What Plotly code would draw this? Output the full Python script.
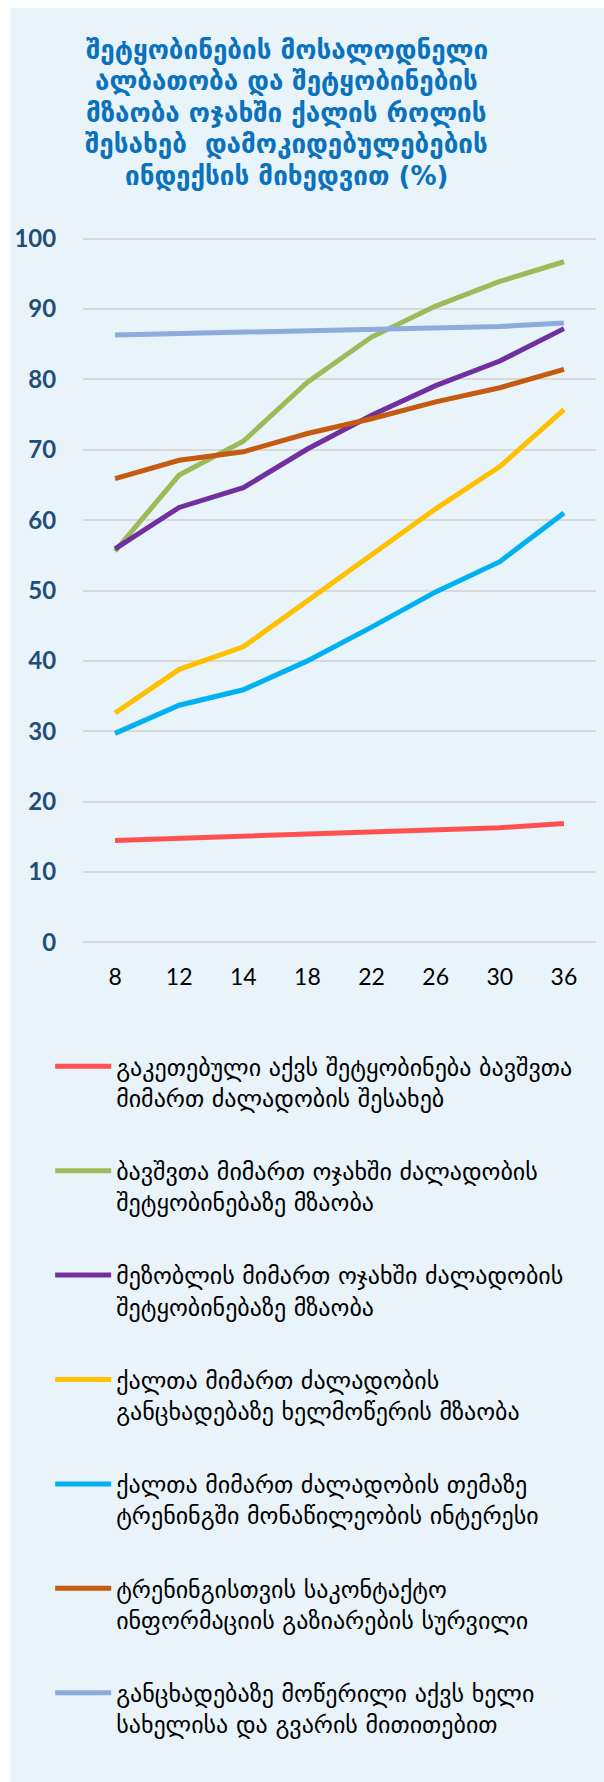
import plotly.graph_objects as go

categories = ["8", "12", "14", "18", "22", "26", "30", "36"]

series_names = [
    "გაკეთებული აქვს შეტყობინება ბავშვთა<br>მიმართ ძალადობის შესახებ",
    "ბავშვთა მიმართ ოჯახში ძალადობის<br>შეტყობინებაზე მზაობა",
    "მეზობლის მიმართ ოჯახში ძალადობის<br>შეტყობინებაზე მზაობა",
    "ქალთა მიმართ ძალადობის<br>განცხადებაზე ხელმოწერის მზაობა",
    "ქალთა მიმართ ძალადობის თემაზე<br>ტრენინგში მონაწილეობის ინტერესი",
    "ტრენინგისთვის საკონტაქტო<br>ინფორმაციის გაზიარების სურვილი",
    "განცხადებაზე მოწერილი აქვს ხელი<br>სახელისა და გვარის მითითებით",
]

reported = [14.5, 14.8, 15.0, 15.3, 15.6, 16.0, 16.3, 16.9]
ready_children = [55.6, 66.4, 71.2, 79.6, 86.0, 90.4, 93.9, 96.7]
ready_neighbour = [55.9, 61.8, 64.6, 70.1, 74.9, 79.1, 82.6, 87.2]
ready_petition = [32.6, 38.8, 42.0, 48.6, 55.0, 61.6, 67.6, 75.7]
training_interest = [29.7, 33.7, 35.9, 40.0, 44.8, 49.8, 54.1, 61.0]
share_contact = [65.9, 68.5, 69.7, 72.3, 74.4, 76.8, 78.8, 81.4]
signed_petition = [86.3, 86.5, 86.6, 86.8, 87.1, 87.3, 87.5, 88.0]

series_values = [reported, ready_children, ready_neighbour, ready_petition,
                 training_interest, share_contact, signed_petition]
colors = ["#FF5050", "#9BBB59", "#7030A0", "#FFC000", "#00B0F0", "#C55A11", "#8FAADC"]

y_ticks = [0, 10, 20, 30, 40, 50, 60, 70, 80, 90, 100]

title_lines = [
    "შეტყობინების მოსალოდნელი",
    "ალბათობა და შეტყობინების",
    "მზაობა ოჯახში ქალის როლის",
    "შესახებ  დამოკიდებულებების",
    "ინდექსის მიხედვით (%)",
]

W, H = 604, 1782
ml, mr = 83.3, 8.3
mt, mb = 234.8, 836.2
pw = W - ml - mr
ph = H - mt - mb

def px_x(x):
    return (x - ml) / pw

def px_y(y):
    return (H - mb - y) / ph

fig = go.Figure()
for i, (name, vals, col) in enumerate(zip(series_names, series_values, colors)):
    fig.add_trace(go.Scatter(
        x=categories, y=vals, name=name, mode="lines",
        line=dict(color=col, width=5),
        legendgroup=f"g{i}",
    ))

fig.add_shape(type="rect", xref="paper", yref="paper",
              x0=px_x(11), x1=px_x(620), y0=px_y(1800), y1=px_y(8),
              fillcolor="#E9F3FA", line=dict(width=0), layer="below")

for i, line_text in enumerate(title_lines):
    fig.add_annotation(text=line_text, xref="paper", yref="paper",
                       x=px_x(287), y=px_y(49.5 + 31.6 * i), xanchor="center", yanchor="middle",
                       showarrow=False, align="center",
                       font=dict(family="DejaVu Sans", size=26, color="#0A72BD", weight="bold"))

fig.update_layout(
    width=W, height=H,
    margin=dict(l=ml, r=mr, t=mt, b=mb, pad=0, autoexpand=False),
    paper_bgcolor="white",
    plot_bgcolor="rgba(0,0,0,0)",
    showlegend=True,
    legend=dict(
        x=px_x(50.5), y=px_y(1044), xanchor="left", yanchor="top",
        traceorder="grouped", tracegroupgap=39, valign="top",
        itemwidth=56,
        bgcolor="rgba(0,0,0,0)",
        font=dict(family="DejaVu Sans", size=24, color="#000000"),
    ),
    xaxis=dict(
        type="category", range=[-0.5, 7.5],
        showgrid=False, zeroline=False, showline=False,
        ticks="outside", ticklen=10, tickcolor="rgba(0,0,0,0)",
        tickfont=dict(family="Lato", size=23, color="#000000"),
    ),
    yaxis=dict(
        range=[-0.5, 100.5], tickvals=y_ticks, ticktext=[str(v) for v in y_ticks],
        showgrid=True, gridcolor="#D9D9D9", gridwidth=1.5,
        zeroline=False, showline=False,
        ticks="outside", ticklen=21, tickcolor="rgba(0,0,0,0)",
        tickfont=dict(family="Lato", size=24, color="#1F4E79", weight="bold"),
    ),
)

fig.write_html("out.html", config={"displayModeBar": False},
               post_script="document.body.style.margin='0';")
